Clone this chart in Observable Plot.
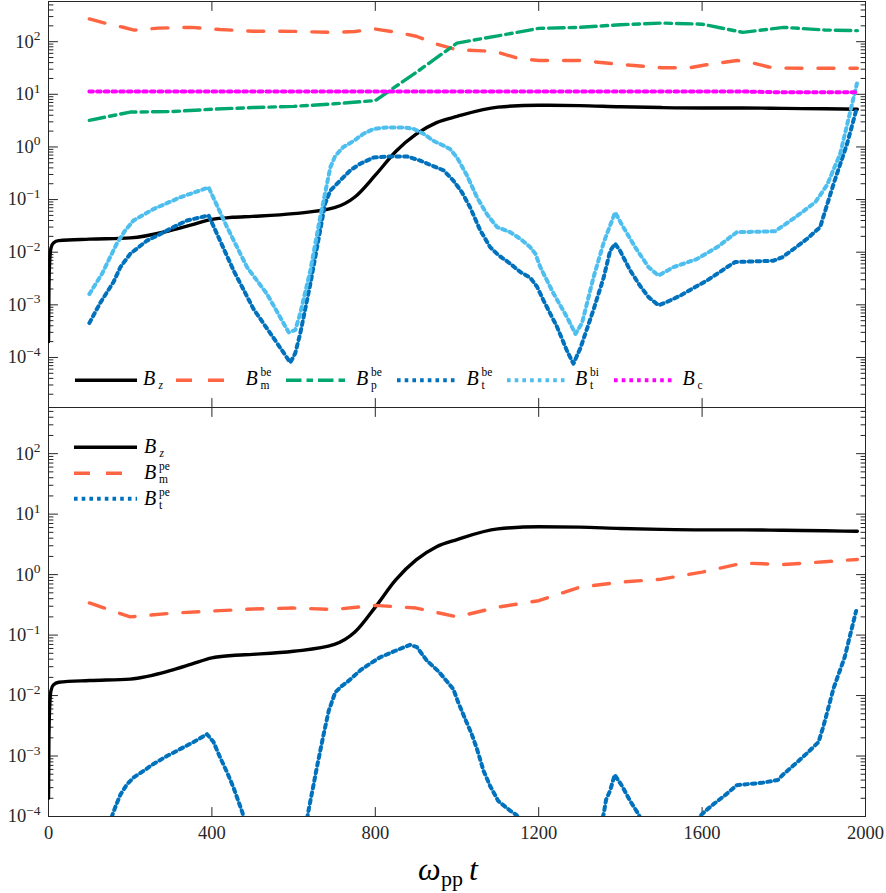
<!DOCTYPE html>
<html><head><meta charset="utf-8">
<script src="https://cdn.jsdelivr.net/npm/d3@7"></script>
<script src="https://cdn.jsdelivr.net/npm/@observablehq/plot@0.6"></script>
<style>
html,body{margin:0;padding:0;background:#fff;}
#wrap{position:relative;width:886px;height:893px;overflow:hidden;}
#top,#bot{position:absolute;left:0;}
#top{top:0;} #bot{top:407px;}
#overlay{position:absolute;left:0;top:0;}
</style></head><body>
<div id="wrap"><div id="top"></div><div id="bot"></div><svg id="overlay" width="886" height="893"></svg></div>
<script>
// ---------------- data ----------------
const xDomain = [0, 2000];
const xTicks = [0, 400, 800, 1200, 1600, 2000];
const yMajor = [1e-4, 1e-3, 1e-2, 1e-1, 1, 10, 100];
const yTopDomain = [1.12e-5, 580];
const yBotDomain = [1e-4, 580];

const tBz = [0, 1, 3, 6, 12, 25, 100, 200, 300, 350, 400, 450, 500, 600, 700, 750, 800, 850, 900, 950, 1000, 1100, 1200, 1300, 1400, 1500, 1600, 1700, 1800, 1900, 1980];
const Bz = [2e-4, 2e-3, 7e-3, 0.012, 0.015, 0.0166, 0.0177, 0.0187, 0.026, 0.033, 0.042, 0.046, 0.048, 0.054, 0.07, 0.112, 0.29, 0.82, 1.75, 2.9, 3.8, 5.7, 6.2, 6.1, 5.8, 5.6, 5.5, 5.5, 5.4, 5.3, 5.2];

const tBmBe = [100, 140, 180, 210, 270, 350, 420, 500, 600, 700, 750, 800, 850, 900, 950, 1000, 1065, 1100, 1150, 1200, 1300, 1400, 1500, 1570, 1607, 1685, 1726, 1763, 1800, 1900, 1980];
const BmBe = [270, 223, 190, 166, 181, 187, 170, 158, 157, 150, 156, 174, 152, 127, 90, 70, 67, 63, 48, 44, 44, 37, 32, 32, 36, 44, 39, 33, 31.5, 31.2, 31.2];

const tDash = [100, 200, 300, 400, 500, 600, 700, 800, 900, 1000, 1100, 1200, 1300, 1400, 1500, 1600, 1700, 1800, 1900, 1980];
const BpBe = [3.2, 4.6, 4.7, 5.2, 5.6, 5.9, 6.6, 7.6, 26, 94, 129, 179, 187, 210, 226, 215, 150, 187, 167, 162];
const Bc = [11.3, 11.3, 11.3, 11.3, 11.3, 11.3, 11.3, 11.3, 11.3, 11.3, 11.3, 11.3, 11.3, 11.3, 11.3, 11.3, 11.3, 10.9, 10.9, 10.9];
const BmPe = [0.34, 0.20, 0.23, 0.25, 0.27, 0.28, 0.265, 0.31, 0.28, 0.2, 0.29, 0.37, 0.62, 0.75, 0.84, 1.1, 1.55, 1.47, 1.63, 1.78];

const tBtBe = [100, 127, 159, 176, 200, 241, 273, 306, 339, 392, 453, 502, 559, 592, 604, 616, 641, 665, 677, 690, 714, 739, 763, 796, 837, 877, 910, 939, 967, 991, 1012, 1032, 1057, 1081, 1102, 1130, 1155, 1179, 1196, 1212, 1245, 1269, 1285, 1302, 1334, 1359, 1375, 1387, 1399, 1424, 1448, 1469, 1493, 1510, 1547, 1584, 1612, 1637, 1661, 1681, 1775, 1796, 1824, 1857, 1889, 1922, 1955, 1979];
const BtBe = [4.5e-4, 1.1e-3, 2.7e-3, 5.2e-3, 9.3e-3, 0.0166, 0.022, 0.030, 0.040, 0.050, 4.5e-3, 8.3e-4, 1.9e-4, 8e-5, 1.2e-4, 2.8e-4, 2.5e-3, 0.026, 0.083, 0.148, 0.23, 0.36, 0.48, 0.63, 0.66, 0.66, 0.55, 0.44, 0.36, 0.23, 0.138, 0.071, 0.026, 0.0125, 8.7e-3, 6.1e-3, 4.2e-3, 3.3e-3, 2.2e-3, 1.2e-3, 3.8e-4, 1.35e-4, 7.6e-5, 1.5e-4, 8e-4, 3.3e-3, 0.0107, 0.0145, 0.0107, 4.5e-3, 2.3e-3, 1.4e-3, 9.8e-4, 1.1e-3, 1.5e-3, 2.2e-3, 2.9e-3, 3.9e-3, 5.2e-3, 6.5e-3, 6.9e-3, 8e-3, 0.0115, 0.018, 0.030, 0.2, 1.15, 5.6];

const tBtBi = [100, 131, 167, 188, 208, 257, 322, 392, 437, 486, 535, 588, 604, 616, 641, 665, 690, 702, 722, 747, 771, 796, 829, 869, 894, 918, 943, 967, 983, 1000, 1024, 1049, 1073, 1098, 1130, 1155, 1179, 1192, 1204, 1237, 1269, 1290, 1306, 1334, 1360, 1387, 1407, 1436, 1469, 1493, 1530, 1587, 1637, 1685, 1779, 1828, 1877, 1906, 1938, 1979];
const BtBi = [1.6e-3, 3.9e-3, 0.0145, 0.026, 0.040, 0.066, 0.11, 0.17, 0.03, 5.2e-3, 1.6e-3, 3.0e-4, 3.3e-4, 6.8e-4, 4.5e-3, 0.046, 0.41, 0.68, 1.0, 1.3, 1.78, 2.2, 2.35, 2.35, 2.2, 1.78, 1.3, 1.06, 0.91, 0.63, 0.29, 0.11, 0.053, 0.030, 0.024, 0.018, 0.0125, 9.3e-3, 5.2e-3, 1.6e-3, 5.9e-4, 2.8e-4, 4.5e-4, 3.3e-3, 0.016, 0.057, 0.03, 0.0125, 5.2e-3, 3.6e-3, 5.2e-3, 7.4e-3, 0.0125, 0.024, 0.025, 0.046, 0.089, 0.19, 0.74, 16];

const tBtPe = [100, 155, 163, 176, 192, 208, 233, 257, 290, 322, 355, 388, 404, 420, 437, 453, 474, 520, 595, 635, 641, 649, 657, 665, 673, 686, 702, 718, 735, 763, 779, 812, 849, 885, 902, 926, 955, 979, 991, 1004, 1020, 1036, 1049, 1065, 1081, 1101, 1130, 1146, 1200, 1290, 1359, 1365, 1375, 1386, 1404, 1424, 1444, 1500, 1600, 1612, 1628, 1658, 1685, 1746, 1785, 1799, 1828, 1856, 1885, 1897, 1922, 1949, 1977];
const BtPe = [1.5e-5, 1.0e-4, 1.4e-4, 2.3e-4, 3.4e-4, 4.4e-4, 5.7e-4, 7.4e-4, 1.0e-3, 1.3e-3, 1.7e-3, 2.3e-3, 1.7e-3, 9.5e-4, 5.4e-4, 3.0e-4, 1.2e-4, 1e-5, 2e-6, 1.1e-4, 1.8e-4, 3.4e-4, 6.5e-4, 1.2e-3, 2.2e-3, 5.6e-3, 0.0113, 0.0144, 0.0176, 0.026, 0.031, 0.043, 0.055, 0.069, 0.063, 0.038, 0.025, 0.016, 0.0128, 7.4e-3, 4.1e-3, 2.3e-3, 1.3e-3, 5.7e-4, 3.2e-4, 1.8e-4, 1.25e-4, 1.05e-4, 3e-5, 3e-6, 1.1e-4, 1.9e-4, 2.7e-4, 4.9e-4, 3.2e-4, 1.8e-4, 1.1e-4, 2e-5, 1.1e-4, 1.3e-4, 1.6e-4, 2.3e-4, 3.3e-4, 3.6e-4, 4.0e-4, 5.0e-4, 7.4e-4, 1.1e-3, 1.7e-3, 3.1e-3, 0.0133, 0.043, 0.25];

// ---------------- styles ----------------
const axisCol = "#262626";
const FONT = "'Liberation Serif', 'Times New Roman', serif";
const DOT = "3.6,4.1";
const st = {
  Bz:   {stroke: "#000000", dash: null, curve: "monotone-x", w: 3.4},
  BmBe: {stroke: "#FF6542", dash: "16,16", curve: "linear", w: 3.4},
  BpBe: {stroke: "#00A86F", dash: "15.5,5,6.5,5", curve: "linear", w: 3.4},
  BtBe: {stroke: "#0072BD", dash: DOT, curve: "linear", w: 4},
  BtBi: {stroke: "#4DBEEE", dash: DOT, curve: "linear", w: 4},
  Bc:   {stroke: "#FF00FF", dash: DOT, curve: "linear", w: 4},
  BmPe: {stroke: "#FF6542", dash: "16,16", curve: "linear", w: 3.4},
  BtPe: {stroke: "#0072BD", dash: DOT, curve: "linear", w: 4}
};
const W = 886, ML = 48, MR = 21;

const rows = (t, v) => t.map((ti, i) => ({t: ti, v: v[i]}));
function line(t, v, s) {
  return Plot.line(rows(t, v), {x: "t", y: "v", stroke: s.stroke, strokeWidth: s.w,
    strokeDasharray: s.dash, curve: s.curve, clip: true});
}
function minorTicks(dom) {
  const out = [];
  for (let k = Math.floor(Math.log10(dom[0])); k <= Math.ceil(Math.log10(dom[1])); k++)
    for (let m = 2; m <= 9; m++) { const v = m * Math.pow(10, k); if (v >= dom[0] && v <= dom[1]) out.push(v); }
  return out;
}
const tickShape = {draw(ctx, l) { ctx.moveTo(0, 0); ctx.lineTo(0, -l); }};
function boxTicks(yDom) {
  const majY = yMajor.filter(v => v >= yDom[0] && v <= yDom[1]);
  const minY = minorTicks(yDom);
  const c = {stroke: axisCol, strokeWidth: 1, anchor: "start", shape: tickShape};
  return [
    Plot.vector(majY, {x: () => xDomain[0], y: d => d, length: 9, rotate: 90, ...c}),
    Plot.vector(majY, {x: () => xDomain[1], y: d => d, length: 9, rotate: -90, ...c}),
    Plot.vector(minY, {x: () => xDomain[0], y: d => d, length: 4.5, rotate: 90, ...c}),
    Plot.vector(minY, {x: () => xDomain[1], y: d => d, length: 4.5, rotate: -90, ...c}),
    Plot.vector(xTicks, {x: d => d, y: () => yDom[0], length: 9, rotate: 0, ...c}),
    Plot.vector(xTicks, {x: d => d, y: () => yDom[1], length: 9, rotate: 180, ...c})
  ];
}
const expFmt = d => "10^" + Math.round(Math.log10(d));
const yAxis = dom => Plot.axisY(yMajor.filter(v => v >= dom[0] && v <= dom[1]),
  {anchor: "left", tickSize: 0, tickPadding: 8, tickFormat: expFmt, label: null, fill: axisCol});
const plotStyle = {fontFamily: FONT, fontSize: "18.5px", background: "transparent", overflow: "visible"};

const topPlot = Plot.plot({
  width: W, height: 408, marginTop: 1, marginBottom: 1, marginLeft: ML, marginRight: MR,
  x: {domain: xDomain, axis: null},
  y: {type: "log", domain: yTopDomain},
  style: plotStyle,
  marks: [
    Plot.frame({stroke: axisCol, strokeWidth: 1}),
    ...boxTicks(yTopDomain),
    yAxis(yTopDomain),
    line(tBz, Bz, st.Bz),
    line(tBmBe, BmBe, st.BmBe),
    line(tDash, BpBe, st.BpBe),
    line(tBtBe, BtBe, st.BtBe),
    line(tBtBi, BtBi, st.BtBi),
    line(tDash, Bc, st.Bc)
  ]
});
const botPlot = Plot.plot({
  width: W, height: 486, marginTop: 0, marginBottom: 77, marginLeft: ML, marginRight: MR,
  x: {domain: xDomain},
  y: {type: "log", domain: yBotDomain},
  style: plotStyle,
  marks: [
    Plot.frame({stroke: axisCol, strokeWidth: 1}),
    ...boxTicks(yBotDomain),
    yAxis(yBotDomain),
    Plot.axisX(xTicks, {anchor: "bottom", tickSize: 0, tickPadding: 9, tickFormat: d => String(d), label: null, fill: axisCol}),
    line(tBz, Bz, st.Bz),
    line(tDash, BmPe, st.BmPe),
    line(tBtPe, BtPe, st.BtPe)
  ]
});
document.getElementById("top").appendChild(topPlot);
document.getElementById("bot").appendChild(botPlot);

// superscript exponents in y tick labels
for (const svg of [topPlot, botPlot]) {
  d3.select(svg).selectAll('g[aria-label="y-axis tick label"] text').each(function () {
    const s = this.textContent;
    if (!s.includes("^")) return;
    const e = s.split("^")[1].replace("-", "\u2212");
    const sel = d3.select(this);
    sel.text(null);
    sel.append("tspan").text("10");
    sel.append("tspan").attr("dy", "-0.55em").attr("font-size", "13.5px").text(e);
  });
}

// ---------------- overlay: legends & x label ----------------
const ov = d3.select("#overlay").style("font-family", FONT);
function legLine(x1, x2, y, s) {
  ov.append("line").attr("x1", x1).attr("x2", x2).attr("y1", y).attr("y2", y)
    .attr("stroke", s.stroke).attr("stroke-width", s.w).attr("stroke-dasharray", s.dash);
}
function mathB(x, y, sub, sup, subItalic) {
  const t = ov.append("text").attr("x", x).attr("y", y).attr("fill", "#000");
  t.append("tspan").attr("font-size", 20).attr("font-style", "italic").text("B");
  const sx = x + (subItalic ? 15.5 : 15);
  if (sup) t.append("tspan").attr("x", sx).attr("y", y - 8.2).attr("font-size", 11.5).text(sup);
  t.append("tspan").attr("x", sx).attr("y", y + (subItalic ? 4 : 4.8)).attr("font-size", 11.5)
    .attr("font-style", subItalic ? "italic" : "normal").text(sub);
}
// top legend
const yL = 380.3, yT = 384.5;
legLine(75, 137, yL, st.Bz);    mathB(143, yT, "z", null, true);
legLine(176, 224, yL, st.BmBe); mathB(245.5, yT, "m", "be");
legLine(286, 346, yL, st.BpBe); mathB(356, yT, "p", "be");
legLine(397, 457, yL, st.BtBe); mathB(466.5, yT, "t", "be");
legLine(507, 567, yL, st.BtBi); mathB(575, yT, "t", "bi");
legLine(614, 673, yL, st.Bc);   mathB(682.5, yT, "c", null);
// bottom legend
legLine(74, 137, 447.3, st.Bz);   mathB(144, 452.5, "z", null, true);
legLine(74, 137, 473.3, st.BmPe); mathB(144, 478.5, "m", "pe");
legLine(74, 137, 498.8, st.BtPe); mathB(144, 504.6, "t", "pe");
// x label
const xl = ov.append("text").attr("x", 418).attr("y", 880).attr("fill", "#000");
xl.append("tspan").attr("font-size", 32).attr("font-style", "italic").text("\u03C9");
xl.append("tspan").attr("x", 441).attr("y", 886).attr("font-size", 22).text("pp");
xl.append("tspan").attr("x", 469).attr("y", 880).attr("font-size", 32).attr("font-style", "italic").text("t");
</script>
</body></html>
